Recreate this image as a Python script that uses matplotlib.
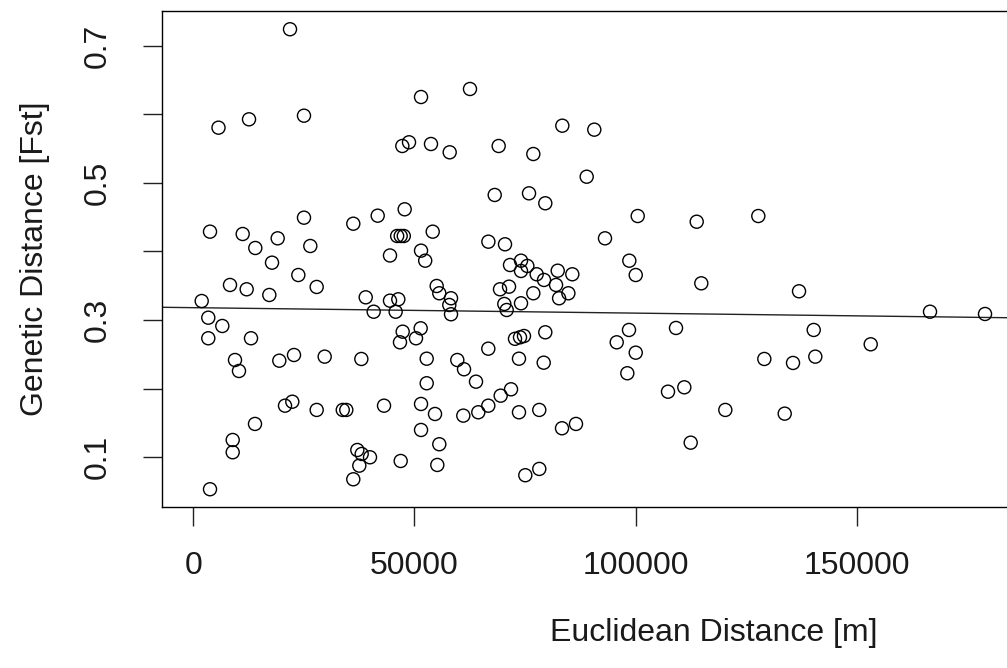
import matplotlib
matplotlib.use("Agg")
import matplotlib.pyplot as plt

euclid_m = [
    21870, 5700, 12600, 25030, 51500, 47270, 48780, 53750, 57980, 25030,
    3780, 11170, 19080, 14020, 26460, 36180, 41700, 47800, 46100, 46900,
    47600, 54140, 44480, 51500,
    52440, 17800, 23750, 8300, 12070, 17190, 27900, 1900, 38990, 44480,
    46360, 40790, 45760, 55040, 55630, 58280, 57890, 58280, 3390, 6560,
    3390, 13050, 47350, 51420, 46740, 50360, 9430, 10330, 19450, 22770,
    29710, 38000, 52780, 59700, 52780, 20740, 22390, 27900, 33800, 34600,
    43130, 51500, 54660, 61060, 13950, 51500, 8910, 8910, 55630, 37090,
    38080, 39960, 37540, 46900, 55180, 36180, 3780,
    62570, 83450, 90680, 69060, 76890, 88960, 68160, 75920, 79600, 100500,
    113840, 66730, 70490, 93100,
    127770,
    71620, 74110, 75540, 74110, 77650, 79310, 82410, 85710, 82030, 84820,
    82720, 76890, 69360, 71400, 74110, 70330, 70870, 98600, 100050, 114880,
    79600, 72750, 73880, 74780, 66710, 73650, 79240, 61220, 63930, 71850,
    69510, 66710, 64450, 73650, 78240, 83380, 86540, 75080, 78240, 98530,
    95750, 100050, 98150, 109160, 107350, 111040, 120310, 112480,
    136980, 166600, 179040, 140300, 153190, 129130, 135620, 140660, 133740,
]

fst = [
    0.724, 0.5805, 0.5927, 0.598, 0.6252, 0.5538, 0.5592, 0.5567, 0.5446, 0.4493,
    0.4289, 0.4255, 0.4192, 0.4051, 0.408, 0.4405, 0.4522, 0.4615, 0.4226, 0.4226,
    0.4226, 0.4289, 0.3942, 0.4012,
    0.3866, 0.3837, 0.3657, 0.3512, 0.3449, 0.3366, 0.3483, 0.3278, 0.3332, 0.3283,
    0.3303, 0.3122, 0.3122, 0.3497, 0.3391, 0.3318, 0.3220, 0.3085, 0.3035, 0.2914,
    0.2735, 0.2735, 0.2831, 0.2880, 0.2676, 0.2735, 0.2418, 0.2258, 0.2408, 0.2491,
    0.2467, 0.2433, 0.2437, 0.2418, 0.2079, 0.1752, 0.1810, 0.1690, 0.1690, 0.1690,
    0.1752, 0.1777, 0.1631, 0.1607, 0.1486, 0.1398, 0.1252, 0.1073, 0.1190, 0.1106,
    0.1048, 0.1000, 0.0878, 0.0946, 0.0888, 0.0679, 0.0534,
    0.6369, 0.5834, 0.5776, 0.5538, 0.5421, 0.5090, 0.4824, 0.4848, 0.4703, 0.4517,
    0.4434, 0.4143, 0.4105, 0.4192,
    0.4517,
    0.3803, 0.3866, 0.3789, 0.3716, 0.3668, 0.3585, 0.3720, 0.3668, 0.3512, 0.3391,
    0.3318, 0.3391, 0.3449, 0.3487, 0.3245, 0.3235, 0.3147, 0.3866, 0.3657, 0.3536,
    0.2822, 0.2727, 0.2749, 0.2768, 0.2583, 0.2437, 0.2379, 0.2283, 0.2102, 0.1991,
    0.1898, 0.1752, 0.1656, 0.1656, 0.1690, 0.1423, 0.1486, 0.0738, 0.0830, 0.2856,
    0.2676, 0.2525, 0.2225, 0.2885, 0.1956, 0.2020, 0.1690, 0.1213,
    0.3420, 0.3122, 0.3089, 0.2856, 0.2647, 0.2433, 0.2375, 0.2467, 0.1636,
]

# fitted regression line
fit_intercept = 0.3181
fit_slope = -7.96e-8

x_ticks = [0, 50000, 100000, 150000]
x_tick_labels = ["0", "50000", "100000", "150000"]
y_ticks = [0.1, 0.2, 0.3, 0.4, 0.5, 0.6, 0.7]
y_tick_labels = ["0.1", "", "0.3", "", "0.5", "", "0.7"]

plt.rcParams['font.family'] = ['Liberation Sans', 'DejaVu Sans']

W, H = 1007, 668
fig = plt.figure(figsize=(W / 100, H / 100), dpi=100)
left_px, right_px, top_px, bottom_px = 161.7, 1266, 11, 507
ax = fig.add_axes([left_px / W, 1 - bottom_px / H,
                   (right_px - left_px) / W, (bottom_px - top_px) / H])

ax.scatter(euclid_m, fst, s=9.4 ** 2, facecolors='none', edgecolors='black',
           linewidths=1.0, zorder=3)
ax.axline((0, fit_intercept), slope=fit_slope, color='#222222', lw=1.0, zorder=2)

ax.set_xlim(-7146, 242580)
ax.set_ylim(0.0275, 0.7506)

ax.set_xticks(x_ticks)
ax.set_xticklabels(x_tick_labels)
ax.set_yticks(y_ticks)
ax.set_yticklabels(y_tick_labels, rotation=90, va='center')

for s in ax.spines.values():
    s.set_linewidth(1.0)
    s.set_color('black')

ax.tick_params(axis='both', length=14, width=1.0, color='#222222',
               labelsize=23, labelcolor='#1a1a1a')
ax.tick_params(axis='x', pad=18)
ax.tick_params(axis='y', pad=21)

ax.set_xlabel("Euclidean Distance [m]", fontsize=23, color='#1a1a1a', labelpad=26)
ax.set_ylabel("Genetic Distance [Fst]", fontsize=23, color='#1a1a1a', labelpad=24)

fig.savefig("out.png", dpi=100)
